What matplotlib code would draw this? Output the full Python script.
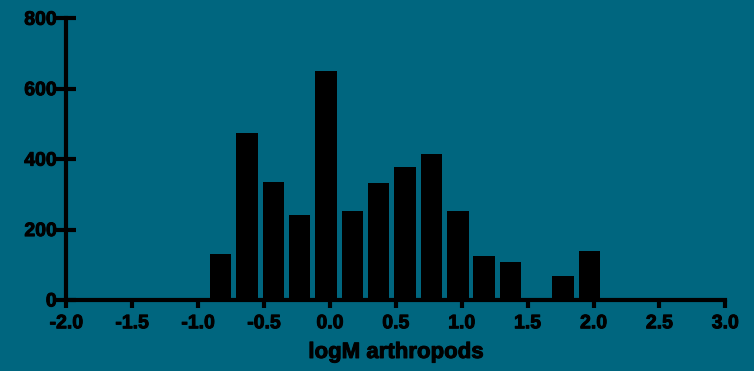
import matplotlib.pyplot as plt
import matplotlib.patheffects as pe

# histogram bins (centres) and counts
bin_centers = [-0.83, -0.63, -0.43, -0.23, -0.03, 0.17, 0.37, 0.57, 0.77,
               0.97, 1.17, 1.37, 1.57, 1.77, 1.97]
counts = [132, 473, 335, 240, 650, 252, 332, 377, 414,
          254, 124, 107, 0, 69, 138]
x_ticks = [-2.0, -1.5, -1.0, -0.5, 0.0, 0.5, 1.0, 1.5, 2.0, 2.5, 3.0]
y_ticks = [0, 200, 400, 600, 800]

bg = '#00667F'
plt.rcParams['font.family'] = ['Liberation Sans', 'DejaVu Sans']
plt.rcParams['font.weight'] = 'bold'

fig = plt.figure(figsize=(7.54, 3.71), dpi=100, facecolor=bg)
ax = fig.add_axes([0.088, 0.1914, 0.874, 0.7593], facecolor=bg)

ax.bar(bin_centers, counts, width=0.163, color='black', zorder=2)

ax.set_xlim(-2.0, 3.0)
ax.set_ylim(0, 800)
ax.set_xticks(x_ticks)
ax.set_xticklabels(['%.1f' % t for t in x_ticks])
ax.set_yticks(y_ticks)

for s in ['top', 'right']:
    ax.spines[s].set_visible(False)
for s in ['left', 'bottom']:
    ax.spines[s].set_linewidth(3)
    ax.spines[s].set_color('black')
    ax.spines[s].set_zorder(3)

ax.tick_params(axis='y', direction='inout', length=14, width=3, pad=0,
               labelsize=14, colors='black')
ax.tick_params(axis='x', direction='out', length=6, width=3, pad=5,
               labelsize=14, colors='black')

# the original text is heavier than Liberation Sans Bold, thicken it a bit
heavy = [pe.withStroke(linewidth=0.7, foreground='black')]
for lab in ax.get_xticklabels() + ax.get_yticklabels():
    lab.set_fontweight('bold')
    lab.set_path_effects(heavy)

xl = ax.set_xlabel('logM arthropods', fontsize=16, fontweight='bold', labelpad=7)
xl.set_path_effects(heavy)

fig.savefig('out.png', dpi=100, facecolor=bg)
